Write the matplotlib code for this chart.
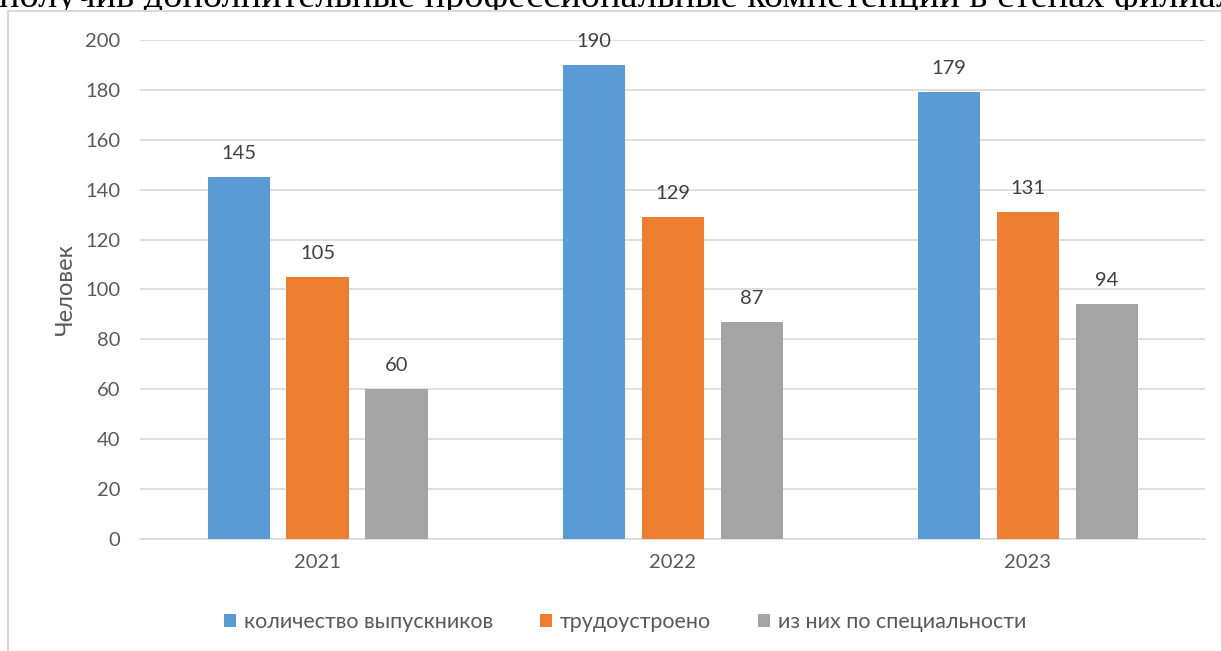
import matplotlib.pyplot as plt
import numpy as np
from matplotlib.patches import Rectangle

# Данные
years = ['2021', '2022', '2023']
vypusk = [145, 190, 179]
trud = [105, 129, 131]
po_spec = [60, 87, 94]
series_names = ['количество выпускников', 'трудоустроено', 'из них по специальности']
colors = ['#5b9bd5', '#ed7d31', '#a5a5a5']

txt_color = '#595959'
fs = 14.5
plt.rcParams['font.family'] = ['Lato', 'DejaVu Sans']

fig = plt.figure(figsize=(12.21, 6.51), dpi=100)
ax = fig.add_axes([0.1147, 0.172, 0.8723, 0.7666])
ax.set_zorder(5)

x = np.arange(len(years))
w = 0.175
step = 0.2225
for k, vals in enumerate([vypusk, trud, po_spec]):
    pos = x + (k - 1) * step
    ax.bar(pos, vals, width=w, color=colors[k], label=series_names[k], zorder=3)
    for p, v in zip(pos, vals):
        ax.text(p, v + 6, str(v), ha='center', va='bottom', fontsize=fs, color='#404040')

ax.set_xlim(-0.5, 2.5)
ax.set_ylim(0, 200)
ax.set_yticks(range(0, 201, 20))
ax.set_xticks(x)
ax.set_xticklabels(years)
ax.grid(axis='y', color='#d9d9d9', linewidth=1.2, zorder=0)
for s in ax.spines.values():
    s.set_visible(False)
ax.spines['bottom'].set_visible(True)
ax.spines['bottom'].set_color('#d9d9d9')
ax.spines['bottom'].set_linewidth(1.2)
ax.tick_params(axis='both', length=0, labelsize=fs, colors=txt_color, pad=14)
ax.tick_params(axis='x', pad=11)
ax.set_ylabel('Человек', fontsize=17, color=txt_color, labelpad=7)

leg = fig.legend(loc='center', bbox_to_anchor=(0.512, 0.044), ncol=3, frameon=False,
                 fontsize=15.5, handlelength=0.55, handleheight=0.55, columnspacing=2.2,
                 handletextpad=0.35)
leg.set_zorder(6)
for t in leg.get_texts():
    t.set_color(txt_color)

# белый фон диаграммы с рамкой (перекрывает низ строки текста сверху)
fig.patches.append(Rectangle((8 / 1221, -0.01), 1.02, 1 - 11 / 651 + 0.01, transform=fig.transFigure,
                             facecolor='white', edgecolor='#d9d9d9', linewidth=1.5, zorder=4))

# обрезанная строка текста документа сверху
fig.text(-0.001, 1 - 7 / 651, 'получив дополнительные профессиональные компетенции в стенах филиала',
         fontsize=27.5, family=['Liberation Serif'], ha='left', va='baseline', color='black', zorder=3)

fig.savefig('out.png', dpi=100)
